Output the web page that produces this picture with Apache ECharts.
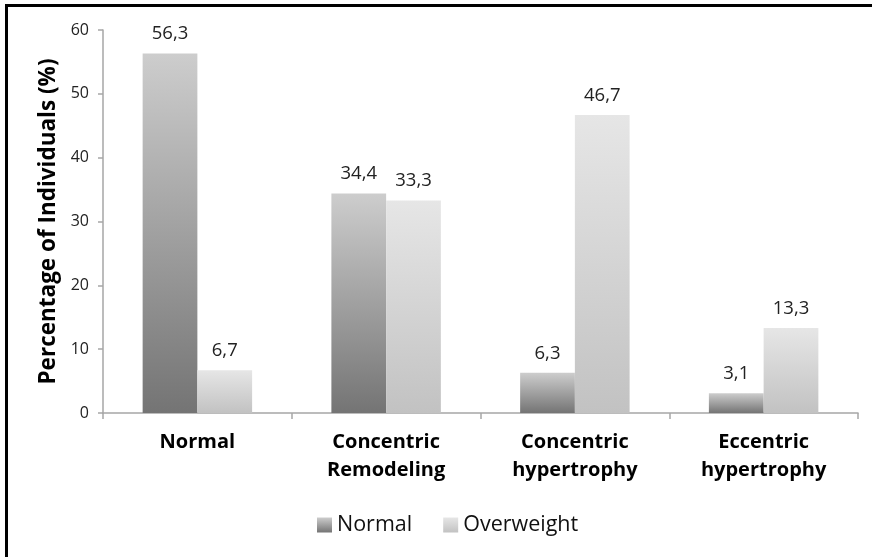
<!DOCTYPE html>
<html>
<head>
<meta charset="utf-8">
<script src="https://cdn.jsdelivr.net/npm/echarts@6/dist/echarts.min.js"></script>
<style>
  html, body { margin: 0; padding: 0; background: #fff; }
  #chart { width: 872px; height: 557px; }
</style>
</head>
<body>
<div id="chart"></div>
<script>
// Left-ventricular geometry by weight group
const categories = ['Normal', 'Concentric\nRemodeling', 'Concentric\nhypertrophy', 'Eccentric\nhypertrophy'];
const normalValues = [56.3, 34.4, 6.3, 3.1];
const overweightValues = [6.7, 33.3, 46.7, 13.3];
const seriesNames = ['Normal', 'Overweight'];

const fmt = p => String(p.value).replace('.', ',');

function grad(top, bottom) {
  return new echarts.graphic.LinearGradient(0, 0, 0, 1, [
    { offset: 0, color: top },
    { offset: 1, color: bottom }
  ]);
}

const chart = echarts.init(document.getElementById('chart'), null, { renderer: 'canvas' });
const font = '"Open Sans", "Liberation Sans", sans-serif';

chart.setOption({
  backgroundColor: '#fff',
  animation: false,
  textStyle: { fontFamily: font },
  grid: { left: 103, right: 14, top: 30, bottom: 144, containLabel: false },
  legend: {
    data: seriesNames,
    top: 509,
    left: 312,
    itemWidth: 15,
    itemHeight: 15,
    itemGap: 31,
    textStyle: { fontSize: 21.5, color: '#111', fontFamily: font },
    icon: 'rect'
  },
  xAxis: {
    type: 'category',
    data: categories,
    axisLine: { lineStyle: { color: '#a6a6a6', width: 1.5 } },
    axisTick: { show: true, length: 6, lineStyle: { color: '#a6a6a6', width: 1.5 } },
    axisLabel: {
      margin: 15,
      fontSize: 20,
      fontWeight: 'bold',
      color: '#000',
      lineHeight: 28,
      fontFamily: font
    }
  },
  yAxis: {
    type: 'value',
    min: 0,
    max: 60,
    interval: 10,
    name: 'Percentage of Individuals (%)',
    nameLocation: 'middle',
    nameGap: 33,
    nameTextStyle: { fontSize: 22.5, fontWeight: 'bold', color: '#000', fontFamily: font },
    axisLine: { show: true, lineStyle: { color: '#a6a6a6', width: 1.5 } },
    axisTick: { show: true, length: 5, lineStyle: { color: '#a6a6a6', width: 1.5 } },
    splitLine: { show: false },
    axisLabel: { fontSize: 16, color: '#222', margin: 14, fontFamily: font }
  },
  series: [
    {
      name: seriesNames[0],
      type: 'bar',
      data: normalValues,
      barGap: '0%',
      barCategoryGap: '42%',
      itemStyle: { color: grad('#cdcdcd', '#747474') },
      label: { show: true, position: 'top', distance: 10, fontSize: 18.5, color: '#222', formatter: fmt, fontFamily: font }
    },
    {
      name: seriesNames[1],
      type: 'bar',
      data: overweightValues,
      itemStyle: { color: grad('#e6e6e6', '#c2c2c2') },
      label: { show: true, position: 'top', distance: 10, fontSize: 18.5, color: '#222', formatter: fmt, fontFamily: font }
    }
  ],
  graphic: [
    { type: 'rect', shape: { x: 5, y: 4, width: 3, height: 553 }, style: { fill: '#000' }, silent: true },
    { type: 'rect', shape: { x: 5, y: 4, width: 867, height: 3 }, style: { fill: '#000' }, silent: true }
  ]
});
</script>
</body>
</html>
